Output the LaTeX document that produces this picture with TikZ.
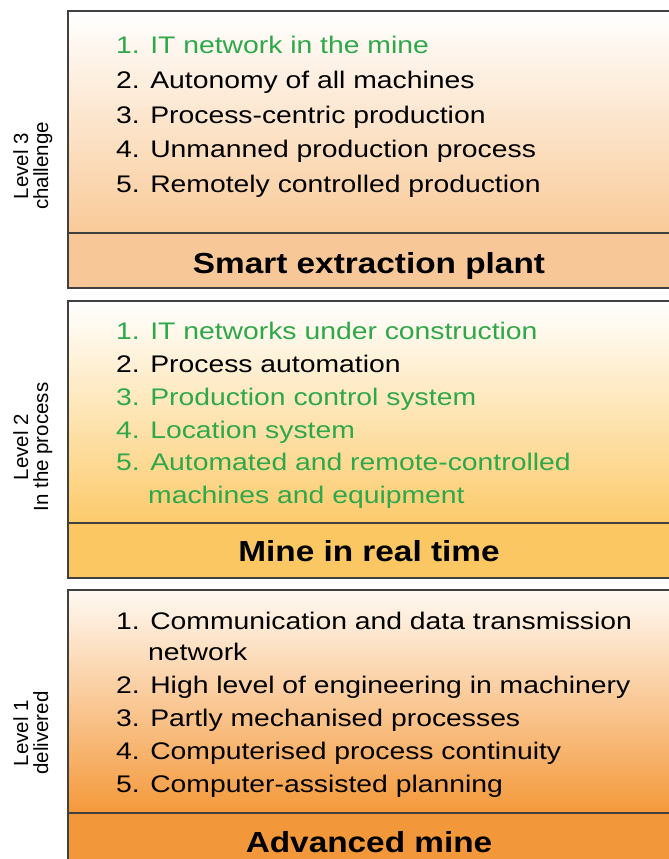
\documentclass[tikz,border=0pt]{standalone}
\usepackage{fontspec}
\setmainfont{Liberation Sans}
\usepackage{graphicx}
\usetikzlibrary{positioning}

\definecolor{itgreen}{RGB}{46,168,74}
\definecolor{lowthree}{RGB}{249,202,152}
\definecolor{bandthree}{RGB}{247,199,151}
\definecolor{lowtwo}{RGB}{252,203,107}
\definecolor{bandtwo}{RGB}{251,199,98}
\definecolor{topone}{RGB}{255,249,242}
\definecolor{lowone}{RGB}{244,153,59}
\definecolor{bandone}{RGB}{242,152,58}

\newcommand{\wide}[1]{\scalebox{1.18}[1]{#1}}
\newcommand{\wideb}[1]{\scalebox{1.15}[1]{#1}}

\begin{document}
\begin{tikzpicture}[x=1pt,y=-1pt,
	item/.style={anchor=base west,inner sep=0pt,font=\fontsize{24}{28}\selectfont},
	title/.style={anchor=base,inner sep=0pt,font=\fontsize{29}{34}\selectfont\bfseries},
	side/.style={anchor=base,inner sep=0pt,rotate=90,font=\fontsize{20.5}{22}\selectfont},
	frame/.style={draw=black!75,line width=1.2pt}]
	\clip (0,0) rectangle (669,859);
	\fill[white] (0,0) rectangle (669,859);

	% level 3
	\shade[top color=white,bottom color=lowthree] (68,11) rectangle (680,233);
	\fill[bandthree] (68,233) rectangle (680,288);
	\draw[frame] (680,11) -- (68,11) -- (68,288) -- (680,288);
	\draw[frame] (68,233) -- (680,233);
	\node[side](l3a) at (28,166){Level 3};
	\node[side](l3b) at (48,166){challenge};
	\node[item,itgreen](a1) at (116,54){\wide{1. IT network in the mine}};
	\node[item](a2) at (116,88.5){\wide{2. Autonomy of all machines}};
	\node[item](a3) at (116,123){\wide{3. Process-centric production}};
	\node[item](a4) at (116,157.5){\wide{4. Unmanned production process}};
	\node[item](a5) at (116,192){\wide{5. Remotely controlled production}};
	\node[title](smart) at (369,273){\wideb{Smart extraction plant}};

	% level 2
	\shade[top color=white,bottom color=lowtwo] (68,301) rectangle (680,523);
	\fill[bandtwo] (68,523) rectangle (680,578);
	\draw[frame] (680,301) -- (68,301) -- (68,578) -- (680,578);
	\draw[frame] (68,523) -- (680,523);
	\node[side](l2a) at (28,447){Level 2};
	\node[side](l2b) at (48,447){In the process};
	\node[item,itgreen](b1) at (116,339){\wide{1. IT networks under construction}};
	\node[item](b2) at (116,372){\wide{2. Process automation}};
	\node[item,itgreen](b3) at (116,405){\wide{3. Production control system}};
	\node[item,itgreen](b4) at (116,438){\wide{4. Location system}};
	\node[item,itgreen](b5) at (116,470.5){\wide{5. Automated and remote-controlled}};
	\node[item,itgreen](b6) at (148,503){\wide{machines and equipment}};
	\node[title](realtime) at (369,561){\wideb{Mine in real time}};

	% level 1
	\shade[top color=topone,bottom color=lowone] (68,590) rectangle (680,813);
	\fill[bandone] (68,813) rectangle (680,870);
	\draw[frame] (680,590) -- (68,590) -- (68,870);
	\draw[frame] (68,813) -- (680,813);
	\node[side](l1a) at (28,733){Level 1};
	\node[side](l1b) at (48,733){delivered};
	\node[item](c1) at (116,629){\wide{1. Communication and data transmission}};
	\node[item](c2) at (148,660){\wide{network}};
	\node[item](c3) at (116,693){\wide{2. High level of engineering in machinery}};
	\node[item](c4) at (116,726){\wide{3. Partly mechanised processes}};
	\node[item](c5) at (116,759){\wide{4. Computerised process continuity}};
	\node[item](c6) at (116,792){\wide{5. Computer-assisted planning}};
	\node[title](advanced) at (369,852){\wideb{Advanced mine}};
\end{tikzpicture}
\end{document}
